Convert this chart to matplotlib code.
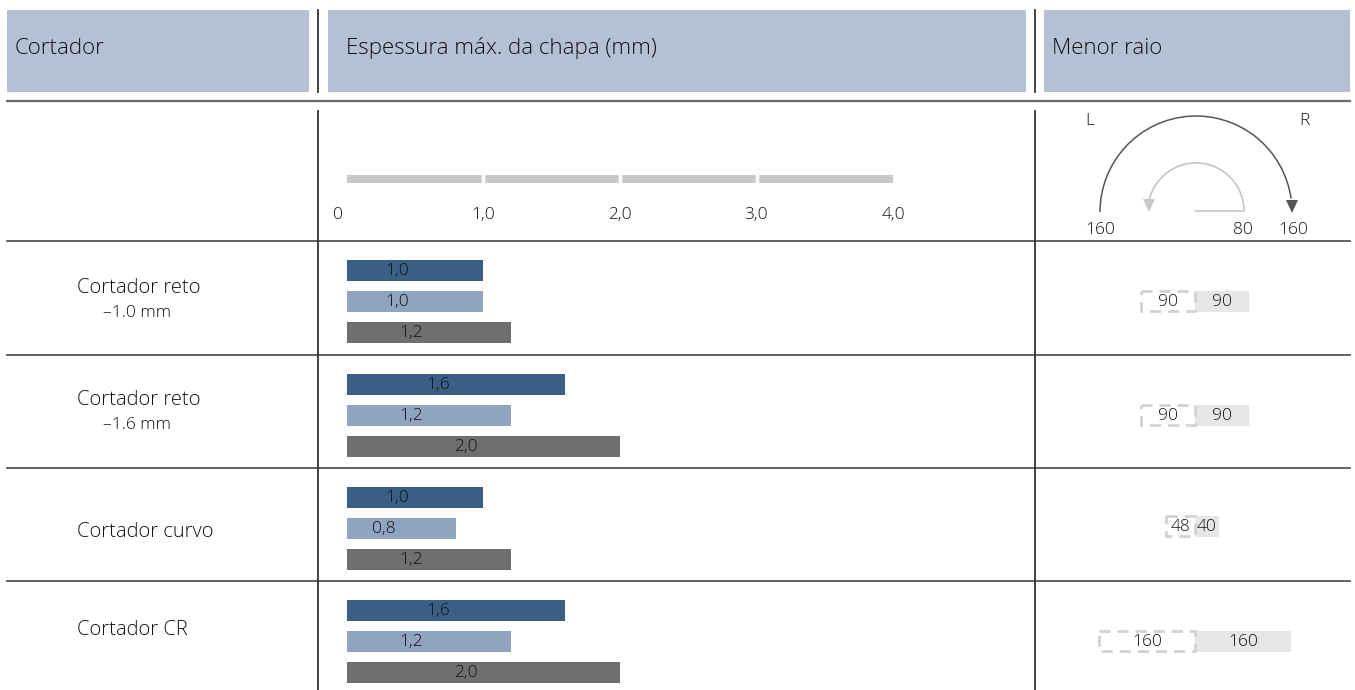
import matplotlib
matplotlib.use("Agg")
import matplotlib.pyplot as plt
from matplotlib.patches import Rectangle, Arc, Polygon

plt.rcParams['font.family'] = ['Open Sans', 'DejaVu Sans']
plt.rcParams['font.weight'] = 'light'

# data
cutters = ["Cortador reto", "Cortador reto", "Cortador curvo", "Cortador CR"]
cutter_subs = ["\u20131.0 mm", "\u20131.6 mm", "", ""]
thick_a = [1.0, 1.6, 1.0, 1.6]
thick_b = [1.0, 1.2, 0.8, 1.2]
thick_c = [1.2, 2.0, 1.2, 2.0]
radius_l = [90, 90, 48, 160]
radius_r = [90, 90, 40, 160]
scale_ticks = [0, 1, 2, 3, 4]
scale_labels = ["0", "1,0", "2,0", "3,0", "4,0"]
headers = ["Cortador", "Espessura máx. da chapa (mm)", "Menor raio"]

W, H = 1355, 690
col_a, col_b, col_c = '#3a5f85', '#8fa4bf', '#6f6f6f'
txt = '#111111'

fig = plt.figure(figsize=(W / 100, H / 100), dpi=100)
ax = fig.add_axes([0, 0, 1, 1])
ax.set_xlim(0, W)
ax.set_ylim(H, 0)
ax.axis('off')

# header boxes
for (x0, x1), pad, label in zip([(7, 309), (328, 1026), (1044, 1350)], [8, 18, 8], headers):
    ax.add_patch(Rectangle((x0, 10), x1 - x0, 82, color='#b4c1d5', lw=0))
    ax.text(x0 + pad, 48, label, fontsize=16, color=txt, va='center', ha='left')

# grid lines
ax.plot([7, 1350], [101, 101], color='#6a6a6a', lw=1.6)
row_tops = [241, 355, 468, 581]
label_y = [288, 400, 532, 630]
for y in row_tops:
    ax.plot([7, 1350], [y, y], color='#555555', lw=1.3)
for x in [318, 1035]:
    ax.plot([x, x], [10, 92], color='#333333', lw=1.3)
    ax.plot([x, x], [111, H], color='#333333', lw=1.3)

# row labels
for i, top in enumerate(row_tops):
    ax.text(77, label_y[i], cutters[i], fontsize=14.5, color=txt, va='center')
    if cutter_subs[i]:
        ax.text(103, label_y[i] + 25, cutter_subs[i], fontsize=12.5, color=txt, va='center')

# radius diagram
ax.add_patch(Arc((1196, 212), 192, 192, theta1=180, theta2=352, color='#555555', lw=1.1))
ax.add_patch(Polygon([(1286, 200), (1298, 200), (1292, 213)], color='#555555', lw=0))
ax.add_patch(Arc((1196, 211), 96, 96, theta1=190, theta2=360, color='#c0c0c0', lw=1.1))
ax.add_patch(Polygon([(1143, 199), (1155, 199), (1149, 212)], color='#c8c8c8', lw=0))
ax.plot([1196, 1244], [211, 211], color='#c0c0c0', lw=1.1)
for x, y, s in [(1090, 121, "L"), (1304, 121, "R"), (1100, 230, "160"),
                (1243, 230, "80"), (1293, 230, "160")]:
    ax.text(x, y, s, fontsize=12.5, color=txt, ha='center', va='center')

# thickness bars
bx = fig.add_axes([347 / W, 0, (893 - 347) / W, 1])
bx.set_xlim(0, 4)
bx.set_ylim(H, 0)
bx.axis('off')

bx.barh(179, 4, height=8, color='#c8c8c8', lw=0)
for t in scale_ticks[1:-1]:
    bx.plot([t, t], [174, 184], color='white', lw=2.5)
for t, lab in zip(scale_ticks, scale_labels):
    dx = -9 if t == 0 else 0
    bx.annotate(lab, (t, 215), xytext=(dx * 0.72, 0), textcoords='offset points',
                fontsize=12.5, color=txt, ha='center', va='center')

for i, top in enumerate(row_tops):
    for vals, off, c in [(thick_a, 29, col_a), (thick_b, 60, col_b), (thick_c, 91, col_c)]:
        y = top + off
        v = vals[i]
        bx.barh(y, v, height=21, color=c, lw=0)
        bx.annotate(f"{v:.1f}".replace('.', ','), (v / 2, y + 1), xytext=(-13, 0),
                    textcoords='offset points', fontsize=12.5, color=txt,
                    ha='center', va='center')

# smallest radius boxes
rx = fig.add_axes([1036 / W, 0, (1350 - 1036) / W, 1])
rx.set_xlim((1036 - 1195) / 0.6, (1350 - 1195) / 0.6)
rx.set_ylim(H, 0)
rx.axis('off')
for i, top in enumerate(row_tops):
    y = top + 60 if i != 2 else top + 58
    rx.barh(y, radius_r[i], left=0, height=21, color='#e6e6e8', lw=0)
    rx.barh(y, radius_l[i], left=-radius_l[i], height=20, facecolor='none',
            edgecolor='#d2d2d2', lw=2, linestyle=(0, (4, 2.5)))
    rx.text(radius_r[i] / 2, y + 1, str(radius_r[i]), fontsize=12.5, color=txt,
            ha='center', va='center')
    rx.text(-radius_l[i] / 2, y + 1, str(radius_l[i]), fontsize=12.5, color=txt,
            ha='center', va='center')

fig.savefig('out.png', dpi=100)
